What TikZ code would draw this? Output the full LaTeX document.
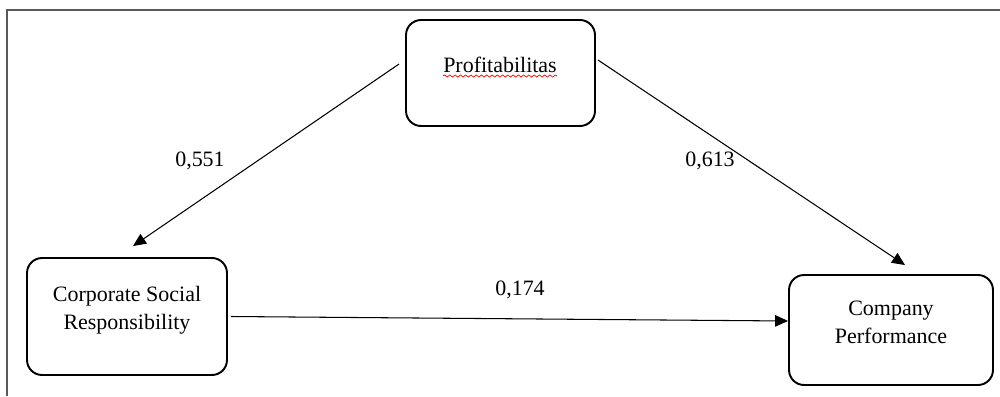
\documentclass[tikz,border=0pt]{standalone}
\usepackage{fontspec}
\setmainfont{Liberation Serif}
\usetikzlibrary{arrows.meta,decorations.pathmorphing}

\tikzset{
  box/.style={draw,line width=1.1pt,rounded corners=0.3cm,inner sep=0pt},
  lbl/.style={align=center,inner sep=0pt,font=\fontsize{12.5}{16}\selectfont},
  arr/.style={-{Triangle[length=0.26cm,width=0.23cm]},line width=0.6pt},
  wavy/.style={red,line width=0.4pt,decorate,decoration={snake,amplitude=0.6pt,segment length=3pt}},
}

\begin{document}
\begin{tikzpicture}[x=0.02cm,y=-0.02cm]
	\useasboundingbox (0,0) rectangle (1000,396);
	\draw[gray!70!black,line width=0.8pt] (7,396) -- (7,10) -- (1000,10);
	% boxes
	\node[box,minimum width=3.78cm,minimum height=2.12cm] (prof) at (500.5,73) {};
	\node[box,minimum width=4cm,minimum height=2.34cm] (csr) at (127,316.5) {};
	\node[box,minimum width=4.08cm,minimum height=2.2cm] (cp) at (891,330) {};
	% texts
	\node[lbl] (proftxt) at (500,65) {Profitabilitas};
	\draw[wavy] ([yshift=-1.6pt]proftxt.south west) -- ([yshift=-1.6pt]proftxt.south east);
	\node[lbl] (csrtxt) at (127,310) {Corporate Social\\Responsibility};
	\node[lbl] (cptxt) at (891,322.5) {Company\\Performance};
	% paths
	\draw[arr] ([shift={(-6,-9)}]prof.west) -- ([shift={(6,-11)}]csr.north);
	\draw[arr] ([shift={(2,-13)}]prof.east) -- ([shift={(14,-9)}]cp.north);
	\draw[arr] ([shift={(3,0)}]csr.east) -- ([shift={(0,-9)}]cp.west);
	\node[lbl] (b1) at (200,161) {0,551};
	\node[lbl] (b2) at (710,161) {0,613};
	\node[lbl] (b3) at (520,290) {0,174};
\end{tikzpicture}
\end{document}
